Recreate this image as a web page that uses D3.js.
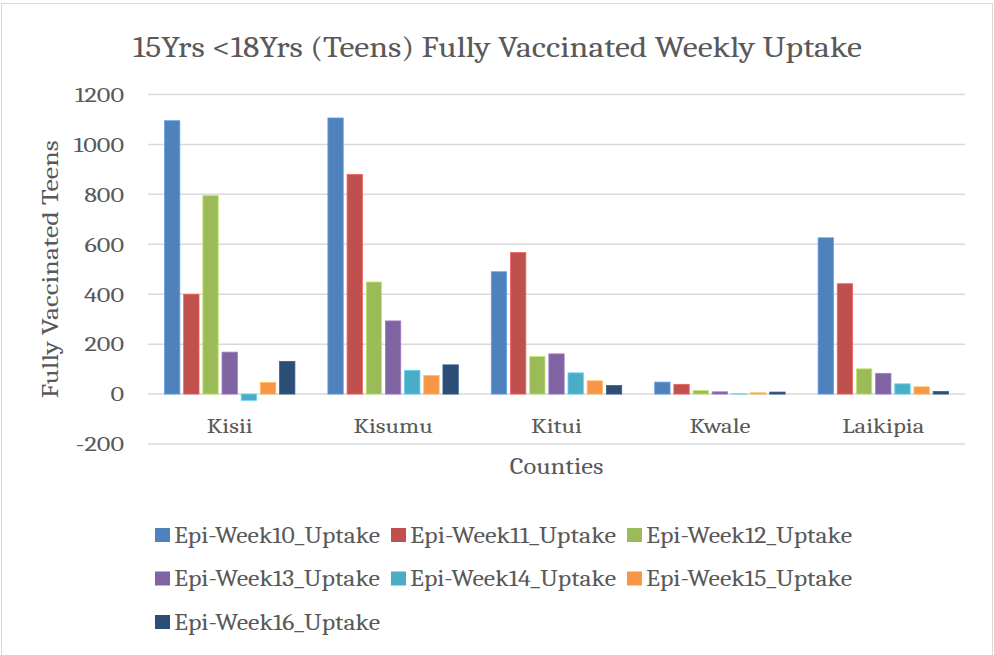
<!DOCTYPE html>
<html>
<head>
<meta charset="utf-8">
<script src="https://cdn.jsdelivr.net/npm/d3@7"></script>
<style>
  body { margin: 0; background: #fff; }
  text { font-family: Cambria, "Liberation Serif", "DejaVu Serif", serif; fill: #595959; }
</style>
</head>
<body>
<svg width="994" height="655"></svg>
<script>
var counties = ["Kisii", "Kisumu", "Kitui", "Kwale", "Laikipia"];
var series = ["Epi-Week10_Uptake", "Epi-Week11_Uptake", "Epi-Week12_Uptake",
              "Epi-Week13_Uptake", "Epi-Week14_Uptake", "Epi-Week15_Uptake", "Epi-Week16_Uptake"];
// values per series, in county order
var week10 = [1095, 1106, 490, 48, 626];
var week11 = [400, 880, 567, 39, 442];
var week12 = [795, 449, 150, 14, 101];
var week13 = [168, 293, 161, 9, 83];
var week14 = [-25, 95, 85, 1, 41];
var week15 = [46, 74, 53, 5, 29];
var week16 = [131, 117, 34, 8, 10];
var yTicks = [-200, 0, 200, 400, 600, 800, 1000, 1200];
var colors = ["#4F81BD", "#C0504D", "#9BBB59", "#8064A2", "#4BACC6", "#F79646", "#2C4D75"];

var values = [week10, week11, week12, week13, week14, week15, week16];

var svg = d3.select("svg"),
    margin = {top: 94.5, right: 29, bottom: 211, left: 148},
    width = 994 - margin.left - margin.right,
    height = 655 - margin.top - margin.bottom,
    g = svg.append("g").attr("transform", "translate(" + margin.left + "," + margin.top + ")");

// stretch text a bit so the narrow fallback serif is closer to Cambria widths
function widen(sel, k) {
  sel.each(function() {
    var w = this.getComputedTextLength();
    d3.select(this).attr("textLength", w * k).attr("lengthAdjust", "spacingAndGlyphs");
  });
}

// chart border
svg.append("rect")
    .attr("x", 1.5).attr("y", 3.5)
    .attr("width", 991).attr("height", 670)
    .attr("fill", "none")
    .attr("stroke", "#D9D9D9")
    .attr("stroke-width", 1);

var x0 = d3.scaleBand().domain(counties).range([0, width]);
var x1 = d3.scaleBand().domain(series)
    .range([16.5, x0.bandwidth() - 16.5])
    .paddingInner(0.2);
var y = d3.scaleLinear().domain([-200, 1200]).range([height, 0]);
var color = d3.scaleOrdinal().domain(series).range(colors);

// gridlines
g.append("g")
  .selectAll("line")
  .data(yTicks)
  .enter().append("line")
    .attr("x1", 0).attr("x2", width)
    .attr("y1", function(d) { return y(d); })
    .attr("y2", function(d) { return y(d); })
    .attr("stroke", "#D9D9D9")
    .attr("stroke-width", 1.5);

// y tick labels
g.append("g")
  .selectAll("text")
  .data(yTicks)
  .enter().append("text")
    .attr("x", -24)
    .attr("y", function(d) { return y(d); })
    .attr("dy", "0.35em")
    .attr("text-anchor", "end")
    .style("font-size", "21px")
    .text(function(d) { return d; })
    .call(widen, 1.25);

// bars
var rows = [];
counties.forEach(function(c, i) {
  series.forEach(function(s, j) {
    rows.push({county: c, series: s, value: values[j][i]});
  });
});

g.append("g")
  .selectAll("rect")
  .data(rows)
  .enter().append("rect")
    .attr("x", function(d) { return x0(d.county) + x1(d.series); })
    .attr("width", x1.bandwidth())
    .attr("y", function(d) { return y(Math.max(0, d.value)); })
    .attr("height", function(d) { return Math.abs(y(d.value) - y(0)); })
    .attr("fill", function(d) { return color(d.series); })
    .attr("stroke", function(d) { return d3.color(color(d.series)).brighter(0.6); })
    .attr("stroke-width", 0.8);

// category labels
g.append("g")
  .selectAll("text")
  .data(counties)
  .enter().append("text")
    .attr("x", function(d) { return x0(d) + x0.bandwidth() / 2; })
    .attr("y", y(0) + 32)
    .attr("dy", "0.35em")
    .attr("text-anchor", "middle")
    .style("font-size", "21px")
    .text(function(d) { return d; })
    .call(widen, 1.18);

// axis titles
svg.append("text")
    .attr("x", margin.left + width / 2)
    .attr("y", 466)
    .attr("dy", "0.35em")
    .attr("text-anchor", "middle")
    .style("font-size", "23px")
    .text("Counties")
    .call(widen, 1.15);

svg.append("text")
    .attr("transform", "translate(50," + (margin.top + height / 2) + ") rotate(-90)")
    .attr("dy", "0.35em")
    .attr("text-anchor", "middle")
    .attr("textLength", 258)
    .attr("lengthAdjust", "spacingAndGlyphs")
    .style("font-size", "23px")
    .text("Fully Vaccinated Teens");

// title
svg.append("text")
    .attr("x", 497.5)
    .attr("y", 46)
    .attr("dy", "0.35em")
    .attr("text-anchor", "middle")
    .attr("textLength", 729)
    .attr("lengthAdjust", "spacingAndGlyphs")
    .style("font-size", "30px")
    .text("15Yrs <18Yrs (Teens) Fully Vaccinated Weekly Uptake");

// legend
var legend = svg.append("g")
  .selectAll("g")
  .data(series)
  .enter().append("g")
    .attr("transform", function(d, i) {
      return "translate(" + (155 + (i % 3) * 236) + "," + (535 + Math.floor(i / 3) * 43.5) + ")";
    });

legend.append("rect")
    .attr("x", 0).attr("y", -7)
    .attr("width", 15).attr("height", 14)
    .attr("fill", function(d) { return color(d); });

legend.append("text")
    .attr("x", 19)
    .attr("dy", "0.35em")
    .attr("textLength", 206)
    .attr("lengthAdjust", "spacingAndGlyphs")
    .style("font-size", "22px")
    .text(function(d) { return d; });
</script>
</body>
</html>
